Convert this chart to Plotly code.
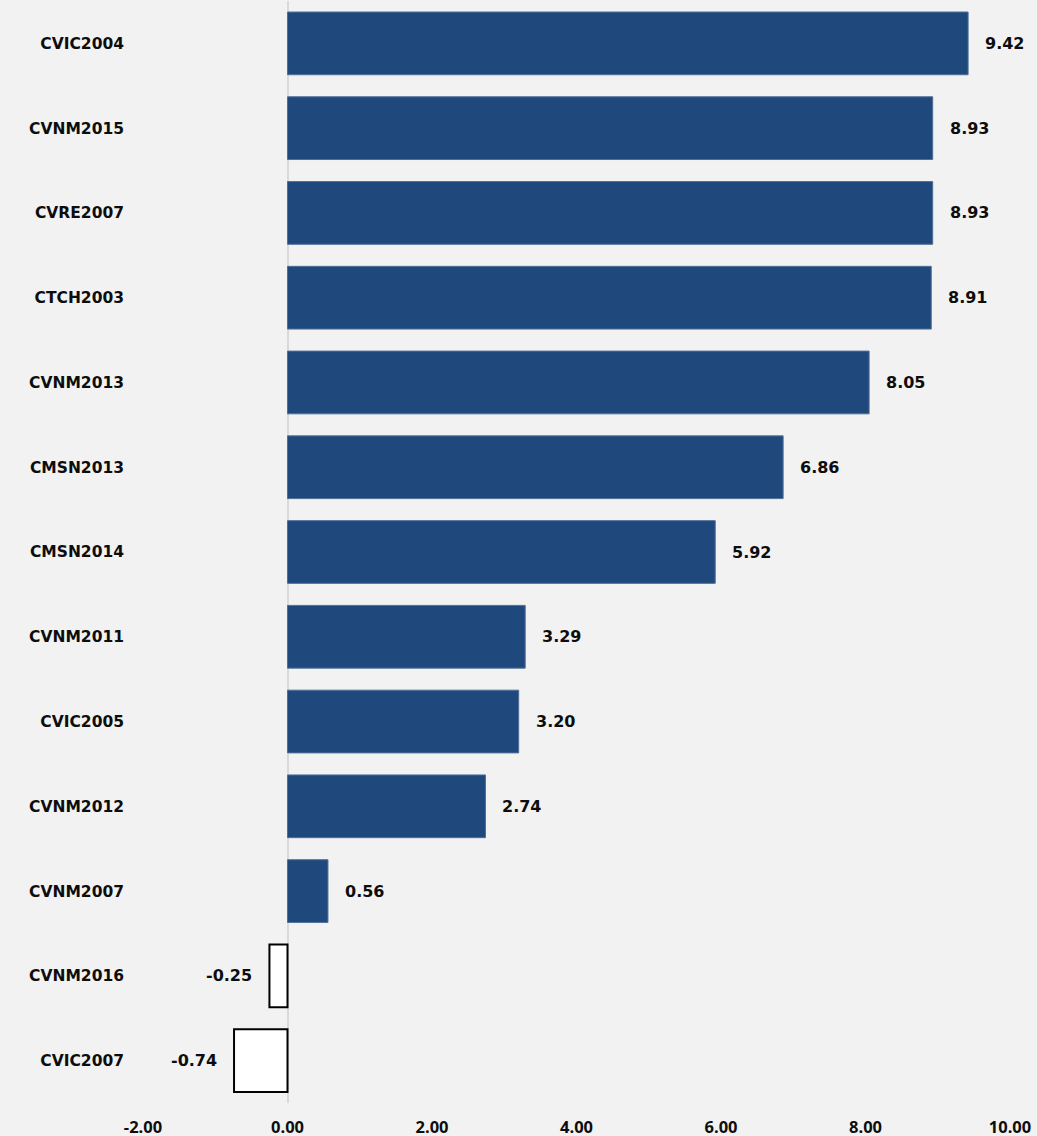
import plotly.graph_objects as go

categories = ["CVIC2004", "CVNM2015", "CVRE2007", "CTCH2003", "CVNM2013", "CMSN2013",
              "CMSN2014", "CVNM2011", "CVIC2005", "CVNM2012", "CVNM2007", "CVNM2016", "CVIC2007"]
values = [9.42, 8.93, 8.93, 8.91, 8.05, 6.86, 5.92, 3.29, 3.20, 2.74, 0.56, -0.25, -0.74]
x_ticks = [-2, 0, 2, 4, 6, 8, 10]
x_tick_labels = ["-2.00", "0.00", "2.00", "4.00", "6.00", "8.00", "10.00"]

BLUE = "#1f497d"
fills = [BLUE if v >= 0 else "#ffffff" for v in values]
edges = ["#4f6f99" if v >= 0 else "#000000" for v in values]
edge_w = [1 if v >= 0 else 2 for v in values]

fig = go.Figure(go.Bar(
    x=values, y=categories, orientation="h",
    marker=dict(color=fills, line=dict(color=edges, width=edge_w)),
    hoverinfo="skip",
))

for c, v in zip(categories, values):
    fig.add_annotation(
        x=v, y=c, text=f"{v:.2f}", showarrow=False,
        xanchor="left" if v >= 0 else "right",
        xshift=15 if v >= 0 else -15,
        font=dict(family="DejaVu Sans", size=16, color="#0d0d0d", weight="bold"),
    )

fig.update_layout(
    width=1037, height=1136,
    margin=dict(l=143, r=27, t=1, b=33),
    paper_bgcolor="#f2f2f2", plot_bgcolor="#f2f2f2",
    bargap=0.26, showlegend=False,
)
fig.update_xaxes(
    range=[-2, 10], tickvals=x_ticks, ticktext=x_tick_labels,
    showgrid=False, zeroline=True, zerolinecolor="#d9d9d9", zerolinewidth=2,
    showline=False, ticks="", ticklabelstandoff=12, automargin=False,
    tickfont=dict(family="Open Sans", size=16.5, color="#0d0d0d", weight="bold"),
)
fig.update_yaxes(
    autorange="reversed", showgrid=False, showline=False, ticks="",
    ticklabelstandoff=18, automargin=False,
    tickfont=dict(family="DejaVu Sans", size=15.5, color="#0d0d0d", weight="bold"),
)

fig.write_html(
    "out.html",
    config={"displayModeBar": False},
    post_script="document.body.style.margin='0';document.body.style.overflow='hidden';",
)
